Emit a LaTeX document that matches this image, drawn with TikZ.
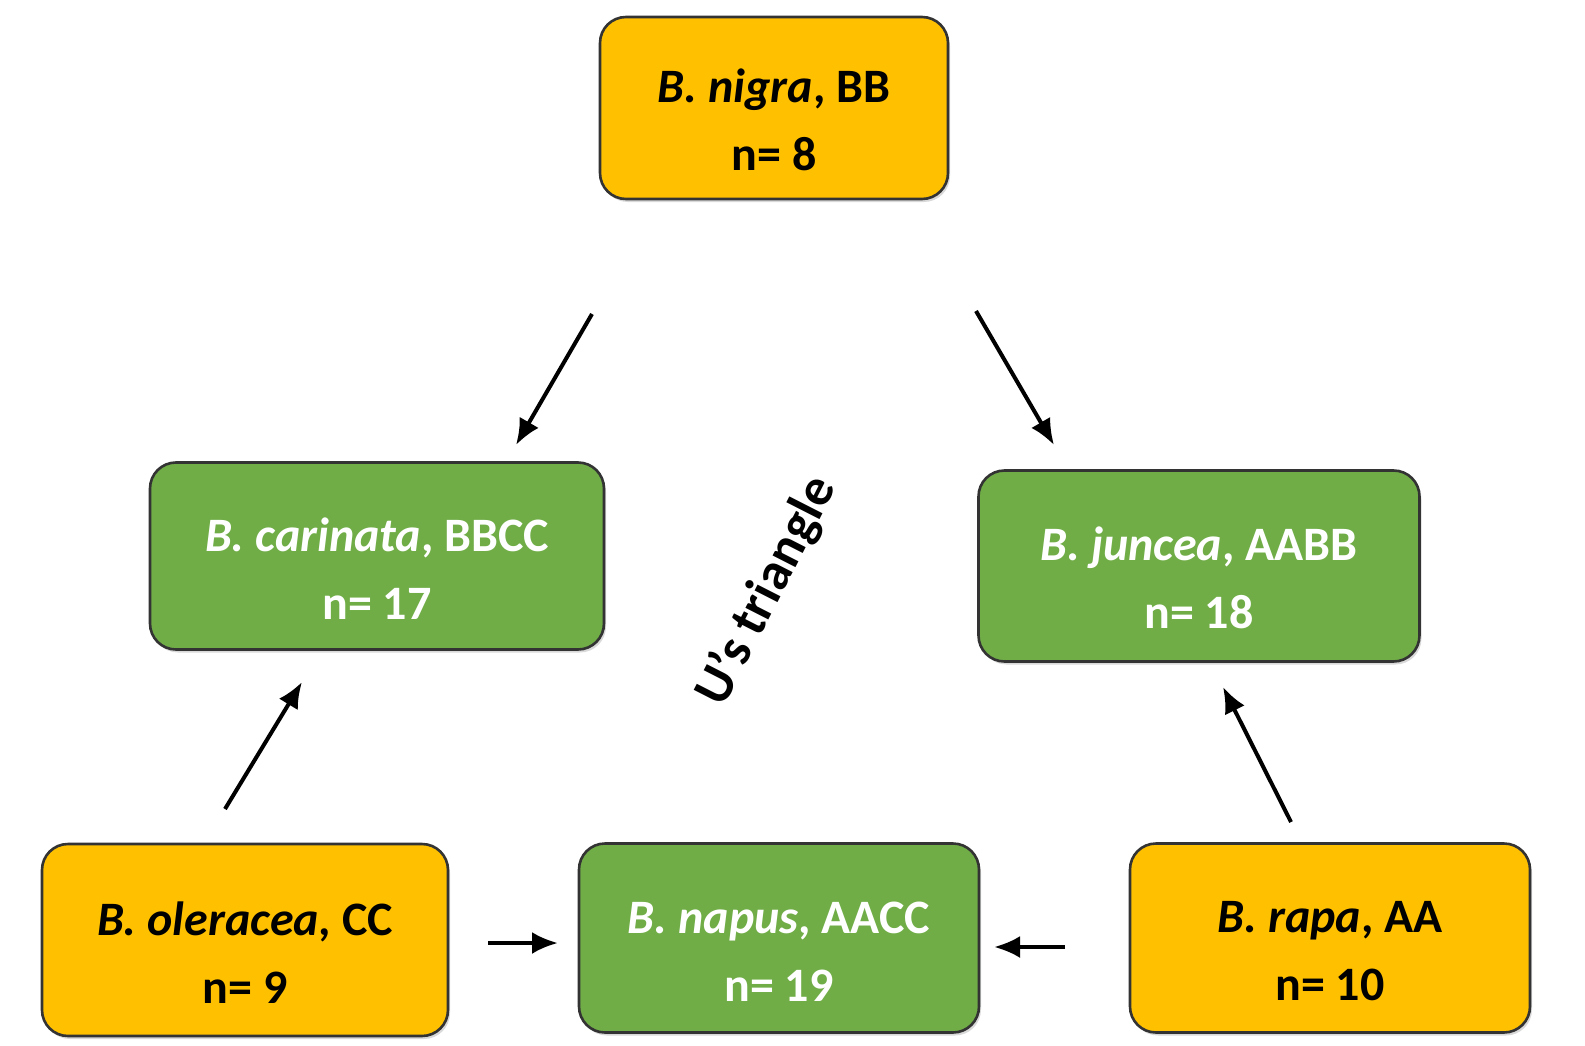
\documentclass[tikz,border=0pt]{standalone}
\usepackage{fontspec}
\setmainfont{Carlito}
\usetikzlibrary{arrows.meta,shadows}
\definecolor{boxorange}{HTML}{FFC000}
\definecolor{boxgreen}{HTML}{70AD47}
\newcommand{\topstrut}{\rule{0pt}{58pt}}
\begin{document}
\begin{tikzpicture}[x=1pt,y=-1pt,
  box/.style={draw=black!80,line width=2.6pt,rounded corners=26pt,align=center,
    inner sep=0pt,font=\fontsize{48}{68}\selectfont\bfseries,
    drop shadow={opacity=0.3,shadow xshift=2pt,shadow yshift=-3pt}},
  diploid/.style={box,fill=boxorange,text=black},
  amphi/.style={box,fill=boxgreen,text=white},
  arr/.style={line width=4pt,-{Latex[length=26pt,width=22pt]}}]
\useasboundingbox (0,0) rectangle (1585,1046);
\node[diploid,minimum width=348pt,minimum height=182pt] (nigra) at (774,108)
  {\topstrut\textit{B. nigra}, BB\\n= 8};
\node[amphi,minimum width=454pt,minimum height=187pt] (carinata) at (377,556)
  {\topstrut\textit{B. carinata}, BBCC\\n= 17};
\node[amphi,minimum width=441pt,minimum height=191pt] (juncea) at (1199,566)
  {\topstrut\textit{B. juncea}, AABB\\n= 18};
\node[diploid,minimum width=406pt,minimum height=192pt] (oleracea) at (245,940)
  {\topstrut\textit{B. oleracea}, CC\\n= 9};
\node[amphi,minimum width=400pt,minimum height=189pt] (napus) at (779,938)
  {\topstrut\textit{B. napus}, AACC\\n= 19};
\node[diploid,minimum width=400pt,minimum height=189pt] (rapa) at (1330,938)
  {\topstrut\textit{B. rapa}, AA\\n= 10};
\node[rotate=63,font=\fontsize{53}{56}\selectfont\bfseries] (label) at (767,591) {U’s triangle};
\coordinate (a1s) at (592,314); \coordinate (a1e) at (516,445);
\coordinate (a2s) at (976,311); \coordinate (a2e) at (1054,445);
\coordinate (a3s) at (225,809); \coordinate (a3e) at (302,682);
\coordinate (a4s) at (1291,822); \coordinate (a4e) at (1223,687);
\coordinate (a5s) at (488,943); \coordinate (a5e) at (558,943);
\coordinate (a6s) at (1065,947); \coordinate (a6e) at (994,947);
\draw[arr] (a1s) -- (a1e);
\draw[arr] (a2s) -- (a2e);
\draw[arr] (a3s) -- (a3e);
\draw[arr] (a4s) -- (a4e);
\draw[arr] (a5s) -- (a5e);
\draw[arr] (a6s) -- (a6e);
\end{tikzpicture}
\end{document}
